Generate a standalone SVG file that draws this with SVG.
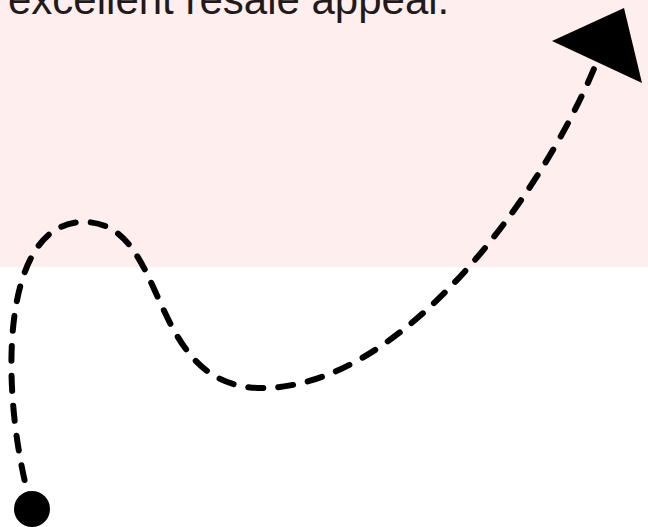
<svg xmlns="http://www.w3.org/2000/svg" width="648" height="527" viewBox="0 0 648 527">
<style>
.lbl{font-family:"Liberation Sans",Arial,sans-serif;font-size:42px;fill:#221a1a}
.conn{fill:none;stroke:#000;stroke-width:6;stroke-linecap:round;stroke-dasharray:15 15}
</style>
<rect x="0" y="0" width="648" height="267" fill="#ffeeee"/>
<g id="note"><text class="lbl" x="8" y="14">excellent resale appeal.</text></g>
<g id="start"><circle cx="32" cy="509" r="18" fill="#000"/></g>
<g id="connectors">
<path class="conn" d="M32,509 C0,400 -3,222 84,222 C170,222 145,388 262,388 C400,388 540,200 596,64"/>
<polygon points="624,8 552,41 642,83" fill="#000"/>
</g>
</svg>
